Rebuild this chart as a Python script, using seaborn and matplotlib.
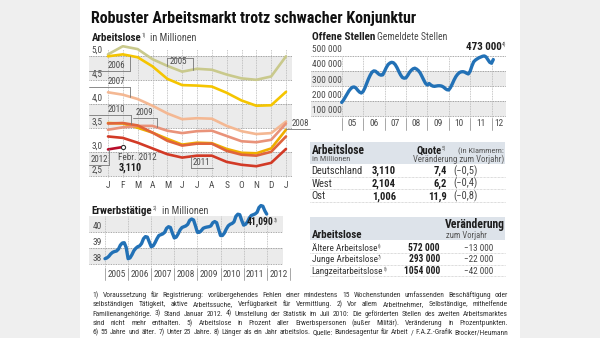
import numpy as np
import pandas as pd
import matplotlib
matplotlib.use('Agg')
import matplotlib.pyplot as plt
import matplotlib.transforms as mtrans
from matplotlib import font_manager as fm
from matplotlib.patches import Rectangle
from matplotlib.lines import Line2D
import seaborn as sns

# ---------------- data ----------------
MONTHS = ['J', 'F', 'M', 'A', 'M', 'J', 'J', 'A', 'S', 'O', 'N', 'D', 'J']
AL_2005 = [5.04, 5.21, 5.15, 4.94, 4.80, 4.68, 4.74, 4.72, 4.62, 4.54, 4.51, 4.58, 5.00]
AL_2006 = [5.00, 5.04, 4.98, 4.79, 4.53, 4.40, 4.39, 4.37, 4.24, 4.08, 3.97, 3.98, 4.26]
AL_2007 = [4.25, 4.20, 4.11, 3.97, 3.81, 3.69, 3.71, 3.70, 3.55, 3.44, 3.38, 3.40, 3.64]
AL_2008 = [3.61, 3.60, 3.51, 3.41, 3.28, 3.16, 3.20, 3.19, 3.07, 2.99, 2.98, 3.08, 3.47]
AL_2009 = [3.47, 3.52, 3.55, 3.55, 3.45, 3.40, 3.44, 3.45, 3.34, 3.23, 3.21, 3.26, 3.60]
AL_2010 = [3.60, 3.61, 3.56, 3.41, 3.24, 3.14, 3.18, 3.18, 3.03, 2.95, 2.93, 3.01, 3.33]
AL_2011 = [3.33, 3.30, 3.20, 3.08, 2.96, 2.89, 2.93, 2.93, 2.80, 2.74, 2.71, 2.78, 3.07]
AL_2012 = [3.06, 3.11]
AL_SERIES = {'2005': AL_2005, '2006': AL_2006, '2007': AL_2007, '2008': AL_2008,
             '2009': AL_2009, '2010': AL_2010, '2011': AL_2011, '2012': AL_2012}
AL_TICKS = [2.5, 3.0, 3.5, 4.0, 4.5, 5.0]
AL_TICKLABELS = ['2,5', '3,0', '3,5', '4,0', '4,5', '5,0']

# Erwerbstaetige, monthly Jan 2005 .. Jan 2012 (millions)
EMP_YEARS = ['2005', '2006', '2007', '2008', '2009', '2010', '2011', '2012']
EMP = [38.30, 38.35, 38.45, 38.60, 38.70, 38.75, 38.78, 38.90, 39.15, 39.28, 39.30, 39.00,
       38.30, 38.35, 38.55, 38.80, 38.95, 39.05, 39.10, 39.25, 39.55, 39.68, 39.65, 39.35,
       39.05, 39.10, 39.30, 39.55, 39.75, 39.80, 39.85, 39.95, 40.20, 40.30, 40.25, 39.90,
       39.60, 39.65, 39.85, 40.10, 40.25, 40.30, 40.35, 40.45, 40.70, 40.78, 40.72, 40.35,
       39.95, 39.95, 40.05, 40.20, 40.25, 40.28, 40.30, 40.35, 40.55, 40.62, 40.55, 40.15,
       39.75, 39.75, 39.90, 40.15, 40.35, 40.45, 40.50, 40.60, 40.95, 41.08, 41.05, 40.70,
       40.40, 40.45, 40.60, 40.85, 41.00, 41.05, 41.10, 41.20, 41.50, 41.62, 41.58, 41.30,
       41.09]
EMP_TICKS = [38, 39, 40]

# Offene Stellen, monthly Jan 2005 .. Feb 2012 (thousands)
VAC_YEARS = ['05', '06', '07', '08', '09', '10', '11', '12']
VAC = [190, 205, 225, 245, 265, 280, 290, 292, 285, 270, 258, 252,
       262, 285, 315, 345, 370, 390, 398, 396, 385, 375, 370, 372,
       395, 420, 440, 450, 455, 452, 440, 420, 395, 372, 355, 350,
       352, 368, 388, 402, 412, 416, 410, 400, 385, 362, 338, 316,
       305, 315, 305, 298, 296, 298, 300, 300, 298, 292, 282, 274,
       272, 288, 312, 338, 360, 376, 387, 392, 393, 390, 383, 378,
       395, 430, 458, 470, 478, 485, 490, 495, 497, 490, 472, 455,
       449, 473]
VAC_TICKS = [100, 200, 300, 400, 500]
VAC_TICKLABELS = ['100 000', '200 000', '300 000', '400 000', '500 000']

TAB1_REGIONS = ['Deutschland', 'West', 'Ost']
TAB1_ARBEITSLOSE = ['3,110', '2,104', '1,006']
TAB1_QUOTE = ['7,4', '6,2', '11,9']
TAB1_CHANGE = ['(\u22120,5)', '(\u22120,4)', '(\u22120,8)']

TAB2_GROUPS = ['Ältere Arbeitslose', 'Junge Arbeitslose', 'Langzeitarbeitslose']
TAB2_NOTES = ['6)', '7)', '8)']
TAB2_VALUES = ['572 000', '293 000', '1054 000']
TAB2_CHANGE = ['\u221213 000', '\u221222 000', '\u221242 000']

FOOTNOTE = [
    "1) Voraussetzung für Registrierung: vorübergehendes Fehlen einer mindestens 15 Wochenstunden umfassenden Beschäftigung oder",
    "selbständigen Tätigkeit, aktive Arbeitssuche, Verfügbarkeit für Vermittlung. 2) Vor allem Arbeitnehmer, Selbständige, mithelfende",
    "Familienangehörige. 3) Stand Januar 2012. 4) Umstellung der Statistik im Juli 2010: Die geförderten Stellen des zweiten Arbeitsmarktes",
    "sind nicht mehr enthalten. 5) Arbeitslose in Prozent aller Erwerbspersonen (außer Militär). Veränderung in Prozentpunkten.",
    "6) 55 Jahre und älter. 7) Unter 25 Jahre. 8) Länger als ein Jahr arbeitslos. Quelle: Bundesagentur für Arbeit / F.A.Z.-Grafik Brocker/Heumann",
]

# ---------------- styling ----------------
sns.set_theme(style='white')


def has_family(name):
    try:
        fm.findfont(fm.FontProperties(family=name), fallback_to_default=False)
        return True
    except Exception:
        return False


FAMILY = ['Liberation Sans', 'DejaVu Sans']
for cand in ['Liberation Sans Narrow', 'Arial Narrow', 'Roboto Condensed', 'DejaVu Sans Condensed',
             'Noto Sans Condensed', 'Open Sans Condensed']:
    if has_family(cand):
        FAMILY = [cand] + FAMILY
        break
plt.rcParams['font.family'] = FAMILY
plt.rcParams['axes.unicode_minus'] = True

PAL = {'2005': '#c9c98c', '2006': '#f5c500', '2007': '#f4b893', '2008': '#eeae00',
       '2009': '#e9937a', '2010': '#e0643c', '2011': '#d23a26', '2012': '#b80d2a'}
BLUE = '#2271b6'
BAND = '#ebebeb'
TXT = '#1e1e1e'
SUB = '#4a4a4a'
GRID = '#8a8a8a'

W, H = 600, 338
fig = plt.figure(figsize=(6, 3.38), dpi=100)
fig.patch.set_facecolor('#efefef')
fig.add_artist(Rectangle((80 / W, 0), 440 / W, 1, transform=fig.transFigure,
                         facecolor='white', edgecolor='none', zorder=-10))
R = fig.canvas.get_renderer()


def fx(px):
    return px / W


def fy(py):
    return 1 - py / H


def ax_px(x0, y0, x1, y1):
    ax = fig.add_axes([x0 / W, 1 - y1 / H, (x1 - x0) / W, (y1 - y0) / H])
    ax.set_facecolor('none')
    for s in ax.spines.values():
        s.set_visible(False)
    ax.set_xticks([])
    ax.set_yticks([])
    return ax


def width(t):
    return t.get_window_extent(renderer=R).width


def size_for(s, target, weight='normal'):
    t = fig.text(0, 0, s, fontsize=10, weight=weight)
    w = width(t)
    t.remove()
    return 10 * target / w


def T(x, yb, s, w=None, size=8, weight='normal', color=TXT, ha='left'):
    if w is not None:
        size = size_for(s, w, weight)
    t = fig.text(fx(x), fy(yb), s, fontsize=size, weight=weight, color=color,
                 va='baseline', ha=ha)
    return t, size


def sup(t, s, color=SUB, gap=0.4):
    bb = t.get_window_extent(renderer=R)
    x = bb.x1 + gap
    yb = H - t.get_position()[1] * H
    size = t.get_fontsize()
    return fig.text(fx(x), fy(yb - 0.38 * size / 0.72), s,
                    fontsize=size * 0.5, color=color, va='baseline')


def justify(s, x0, x1, yb, size, color='#333333'):
    words = s.split(' ')
    ts = [fig.text(0, 0, w, fontsize=size, va='baseline', color=color) for w in words]
    ws = [width(t) for t in ts]
    gap = (x1 - x0 - sum(ws)) / max(len(words) - 1, 1)
    x = x0
    for t, w in zip(ts, ws):
        t.set_position((fx(x), fy(yb)))
        x += w + gap


TICK = size_for('2005', 18.3)

# ---------------- title ----------------
T(91, 22.7, 'Robuster Arbeitsmarkt trotz schwacher Konjunktur', w=326, weight='bold', color='#111111')

# ---------------- Arbeitslose chart ----------------
t, _ = T(91.7, 41, 'Arbeitslose', w=50, weight='bold')
sup(t, '1)')
T(150, 41, 'in Millionen', w=47, color=SUB)

ax1 = ax_px(89, 45, 292, 180)
ax1.set_xlim((89 - 108) / 14.83, 12 + (292 - 286) / 14.83)
ax1.set_ylim(2.5 - (180 - 176.3) / 48, 5.0 + (56.3 - 45) / 48)
for lo in (2.5, 3.5, 4.5):
    ax1.axhspan(lo, lo + 0.5, color=BAND, lw=0, zorder=0)
for v, lab in zip(AL_TICKS, AL_TICKLABELS):
    ax1.axhline(v, color=GRID, lw=0.6, ls=(0, (1, 1)), zorder=1)
    ax1.text(0.012, v + 0.03, lab, transform=ax1.get_yaxis_transform(), fontsize=TICK,
             color=SUB, va='bottom', ha='left')
for i in range(len(MONTHS)):
    ax1.axvline(i, ymin=0.02, ymax=0.97, color='#b5b5b5', lw=0.6, ls=(0, (1, 1)), zorder=1)

rows = [(i, v, yr) for yr, vals in AL_SERIES.items() for i, v in enumerate(vals)]
df_al = pd.DataFrame(rows, columns=['m', 'v', 'yr'])
sns.lineplot(data=df_al, x='m', y='v', hue='yr', palette=PAL, lw=1.9, legend=False,
             ax=ax1, zorder=3)
ax1.set_xlabel('')
ax1.set_ylabel('')
ax1.set_xticks([])
ax1.set_yticks([])
ax1.scatter([1], [AL_2012[1]], s=9, facecolor='white', edgecolor='#333333', lw=0.8, zorder=5)

blend1 = mtrans.blended_transform_factory(ax1.transData, fig.transFigure)
for i, m in enumerate(MONTHS):
    ax1.text(i, fy(186), m, transform=blend1, fontsize=TICK, color=SUB,
             ha='center', va='center')

TAG = TICK * 0.95


def tag(ax, s, tx, ty, ux0, ux1, vx, vy):
    ax.text(tx, ty + 0.015, s, fontsize=TAG, color=SUB, va='bottom', ha='left',
            zorder=6, clip_on=False)
    ax.plot([ux0, ux1], [ty, ty], color='#777777', lw=0.6, zorder=6, clip_on=False)
    ax.plot([vx, vx], [ty, vy], color='#777777', lw=0.6, zorder=6, clip_on=False)


def px2d(px, py):
    return (px - 108) / 14.83, 5.0 - (py - 56.3) / 48


def ser_at(series, x):
    return float(np.interp(x, np.arange(len(series)), series))


x0, _ = px2d(89, 0)
tx, ty = px2d(108, 71)
vx, _ = px2d(130, 0)
tag(ax1, '2006', tx, ty, x0, vx, vx, ser_at(AL_2006, vx))
tx, ty = px2d(108, 86.5)
tag(ax1, '2007', tx, ty, x0, vx, vx, ser_at(AL_2007, vx))
tx, ty = px2d(108, 115)
vx, _ = px2d(131, 0)
tag(ax1, '2010', tx, ty, x0, vx, vx, ser_at(AL_2010, vx))
tx, ty = px2d(136, 117.5)
ux0, _ = px2d(133, 0)
vx, _ = px2d(157, 0)
tag(ax1, '2009', tx, ty, ux0, vx, vx, ser_at(AL_2009, vx))
tx, ty = px2d(170, 66)
ux0, uy = px2d(167, 58)
vx, _ = px2d(193, 0)
ax1.text(tx, ty, '2005', fontsize=TAG, color=SUB, va='bottom', ha='left', zorder=6)
ax1.plot([ux0, vx], [uy, uy], color='#777777', lw=0.6, zorder=6)
ax1.plot([ux0, ux0], [uy, px2d(0, 66)[1]], color='#777777', lw=0.6, zorder=6)
ax1.plot([vx, vx], [uy, ser_at(AL_2005, vx)], color='#777777', lw=0.6, zorder=6)
tx, ty = px2d(91, 165)
vx, _ = px2d(108.5, 0)
tag(ax1, '2012', tx, ty, x0, vx, vx, AL_2012[0])
tx, ty = px2d(193, 168)
vx, _ = px2d(191, 0)
ux1, _ = px2d(213, 0)
tag(ax1, '2011', tx, ty, vx, ux1, vx, ser_at(AL_2011, vx))
tx, ty = px2d(292, 129)
ux0, _ = px2d(286, 0)
ux1, _ = px2d(310, 0)
ax1.text(tx, ty + 0.015, '2008', fontsize=TAG, color=SUB, va='bottom', ha='left',
         clip_on=False, zorder=6)
ax1.plot([ux0, ux1], [ty, ty], color='#777777', lw=0.6, clip_on=False, zorder=6)

T(118.3, 160, 'Febr. 2012', w=38.3, color=SUB)
T(118.3, 171, '3,110', w=23.3, weight='bold')

# ---------------- Erwerbstaetige chart ----------------
t, _ = T(91.7, 213.5, 'Erwerbstätige', w=61.3, weight='bold')
sup(t, '2)')
T(161.7, 213.5, 'in Millionen', w=46.3, color=SUB)
ax2 = ax_px(89, 203, 283, 268)
e0, epx = 105, (266.7 - 105) / 84
ax2.set_xlim((89 - e0) / epx, 84 + (283 - 266.7) / epx)
e40, eunit = 231.5, 16.0
ax2.set_ylim(40 - (268 - e40) / eunit, 40 + (e40 - 203) / eunit)
ax2.axhspan(40, 41, color=BAND, lw=0, zorder=0)
ax2.axhspan(38, 39, color=BAND, lw=0, zorder=0)
for v in EMP_TICKS:
    ax2.axhline(v, color=GRID, lw=0.6, ls=(0, (1, 1)), zorder=1)
    ax2.text(0.018, v + 0.05, str(v), transform=ax2.get_yaxis_transform(), fontsize=TICK,
             color=SUB, va='bottom', ha='left')
blend2 = mtrans.blended_transform_factory(ax2.transData, fig.transFigure)
for k in range(len(EMP_YEARS) + 1):
    xs = 12 * k
    ax2.axvline(xs, ymin=0.0, ymax=0.8, color='#b5b5b5', lw=0.6, ls=(0, (1, 1)), zorder=1)
    fig.add_artist(Line2D([xs, xs], [fy(268), fy(280)], transform=blend2, color='#999999', lw=0.6))
for k, yr in enumerate(EMP_YEARS):
    ax2.text(12 * k + 6, fy(274.5), yr, transform=blend2, fontsize=TICK, color=SUB,
             ha='center', va='center')
sns.lineplot(x=np.arange(len(EMP)), y=EMP, color=BLUE, lw=2.4, ax=ax2, zorder=3)
ax2.set_xticks([])
ax2.set_yticks([])
t, _ = T(246.7, 225, '41,090', w=26.7, weight='bold')
sup(t, '3)')

# ---------------- Offene Stellen chart ----------------
T(311.7, 40.5, 'Offene Stellen', w=63.3, weight='bold')
T(377, 40.5, 'Gemeldete Stellen', w=69.7, color=SUB)
ax3 = ax_px(311, 46, 506, 118)
v0, vpx = 341.7, (491.5 - 341.7) / 84
ax3.set_xlim((311 - v0) / vpx, 84 + (506 - 491.5) / vpx)
v100, vunit = 116.0, (116.0 - 55.5) / 400
ax3.set_ylim(100 - (118 - v100) / vunit, 100 + (v100 - 46) / vunit)
ax3.axhspan(300, 400, color=BAND, lw=0, zorder=0)
ax3.axhspan(100, 200, color=BAND, lw=0, zorder=0)
for v, lab in zip(VAC_TICKS, VAC_TICKLABELS):
    ax3.axhline(v, color=GRID, lw=0.6, ls=(0, (1, 1)), zorder=1)
    ax3.text(0.004, v + 8, lab, transform=ax3.get_yaxis_transform(), fontsize=TICK,
             color=SUB, va='bottom', ha='left')
blend3 = mtrans.blended_transform_factory(ax3.transData, fig.transFigure)
for k in range(len(VAC_YEARS)):
    xs = 12 * k
    ax3.axvline(xs, ymin=0.0, ymax=0.85, color='#b5b5b5', lw=0.6, ls=(0, (1, 1)), zorder=1)
    fig.add_artist(Line2D([xs, xs], [fy(118), fy(130)], transform=blend3, color='#999999', lw=0.6))
for k, yr in enumerate(VAC_YEARS):
    xc = 12 * k + 6 if k < len(VAC_YEARS) - 1 else 88
    ax3.text(xc, fy(124), yr, transform=blend3, fontsize=TICK, color=SUB,
             ha='center', va='center')
sns.lineplot(x=np.arange(len(VAC)), y=VAC, color=BLUE, lw=2.4, ax=ax3, zorder=3)
ax3.set_xticks([])
ax3.set_yticks([])
t, _ = T(465.7, 50, '473 000', w=36, weight='bold')
sup(t, '4)')

# ---------------- Table 1 ----------------
HEAD = '#dde3ea'
fig.add_artist(Rectangle((fx(310), fy(164)), (505 - 310) / W, (164 - 142) / H,
                         transform=fig.transFigure, facecolor=HEAD, edgecolor='none'))
T(311.7, 153.5, 'Arbeitslose', w=53.3, weight='bold')
T(311.7, 161.5, 'in Millionen', w=38.3, color='#555555')
t, _ = T(416.5, 153.5, 'Quote', w=25.3, weight='bold')
sup(t, '5)', color='#555555')
T(504, 153.5, '(in Klammern:', w=46, color='#555555', ha='right')
T(504, 161.5, 'Veränderung zum Vorjahr)', w=91, color='#555555', ha='right')
S_ROW = size_for('Deutschland', 51.3)
for i, (reg, al, q, ch) in enumerate(zip(TAB1_REGIONS, TAB1_ARBEITSLOSE, TAB1_QUOTE, TAB1_CHANGE)):
    yb = 174 + 12.6 * i
    T(311.7, yb, reg, size=S_ROW, color='#333333')
    T(371.7, yb, al, size=S_ROW, weight='bold')
    T(446.7, yb, q, size=S_ROW, weight='bold', ha='right')
    T(453, yb, ch, size=S_ROW, color='#444444')
    ly = 176.7 + 12.6 * i
    fig.add_artist(Line2D([fx(310), fx(505)], [fy(ly), fy(ly)], transform=fig.transFigure,
                          color='#bbbbbb', lw=0.5, ls=(0, (1, 1))))

# ---------------- Table 2 ----------------
fig.add_artist(Rectangle((fx(310), fy(240)), (505 - 310) / W, (240 - 216.5) / H,
                         transform=fig.transFigure, facecolor=HEAD, edgecolor='none'))
T(311.7, 238, 'Arbeitslose', w=51, weight='bold')
T(504.5, 228, 'Veränderung', w=59.5, weight='bold', ha='right')
T(445.7, 237.5, 'zum Vorjahr', w=41, color='#555555')
S_G = size_for('Langzeitarbeitslose', 70)
for i, (g, n, v, ch) in enumerate(zip(TAB2_GROUPS, TAB2_NOTES, TAB2_VALUES, TAB2_CHANGE)):
    yb = 251 + 11.5 * i
    t, _ = T(311.7, yb, g, size=S_G, color='#333333')
    sup(t, n, color='#555555')
    T(440, yb, v, size=S_G * 1.05, weight='bold', ha='right')
    T(493.3, yb, ch, size=S_G, color='#444444', ha='right')
    ly = 253 + 11.6 * i
    fig.add_artist(Line2D([fx(310), fx(505)], [fy(ly), fy(ly)], transform=fig.transFigure,
                          color='#bbbbbb', lw=0.5, ls=(0, (1, 1))))

# ---------------- footnote ----------------
FN_W = 508 - 92.7
FN_SIZE = min(size_for(line, FN_W * 0.985) for line in FOOTNOTE)
for i, line in enumerate(FOOTNOTE):
    justify(line, 92.7, 508, 297.3 + 9.2 * i, FN_SIZE)

fig.savefig('out.png', dpi=100, facecolor=fig.get_facecolor())
